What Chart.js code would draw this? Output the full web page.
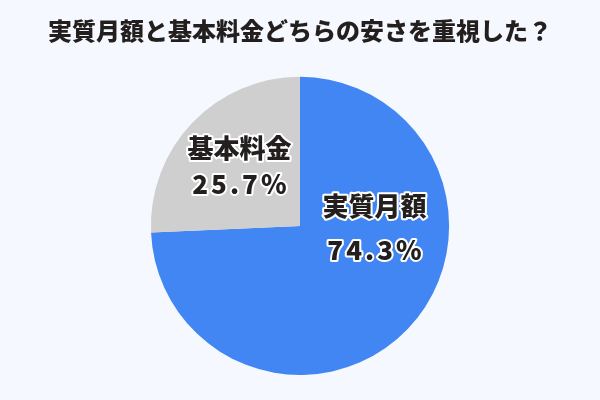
<!DOCTYPE html>
<html>
<head>
<meta charset="utf-8">
<script src="https://cdn.jsdelivr.net/npm/chart.js@4"></script>
<style>
  html, body { margin: 0; padding: 0; background: #f5f8fe; }
  #wrap { width: 600px; height: 400px; }
</style>
</head>
<body>
<div id="wrap"><canvas id="pieChart" width="600" height="400"></canvas></div>
<script>
const titleText = '実質月額と基本料金どちらの安さを重視した？';
const labels = ['実質月額', '基本料金'];
const values = [74.3, 25.7];
const colors = ['#4286f4', '#cfcfcf'];

// where each label sits: direction (deg, canvas coords) and fraction of radius
const labelSpots = [
  { angle: 2.0, dist: 0.50 },
  { angle: -135.5, dist: 0.57 }
];

const sliceLabels = {
  id: 'sliceLabels',
  afterDatasetsDraw(chart) {
    const ctx = chart.ctx;
    const meta = chart.getDatasetMeta(0);
    ctx.save();
    ctx.textAlign = 'center';
    ctx.textBaseline = 'middle';
    ctx.lineJoin = 'round';
    meta.data.forEach((arc, i) => {
      const spot = labelSpots[i];
      const a = spot.angle * Math.PI / 180;
      const r = arc.outerRadius * spot.dist;
      const x = arc.x + Math.cos(a) * r;
      const y = arc.y + Math.sin(a) * r;
      const lines = [labels[i], values[i].toFixed(1) + '%'];
      const gap = i === 0 ? 22 : 18;
      lines.forEach((txt, j) => {
        const ly = y + (j === 0 ? -gap : gap);
        ctx.font = '900 26px "Noto Sans CJK JP"';
        ctx.letterSpacing = j === 0 ? '0px' : '3px';
        const lx = j === 0 ? x : x + 1.5;
        ctx.strokeStyle = '#ffffff';
        ctx.lineWidth = 4;
        ctx.strokeText(txt, lx, ly);
        ctx.fillStyle = '#231f1f';
        ctx.fillText(txt, lx, ly);
      });
    });
    ctx.restore();
  }
};

new Chart(document.getElementById('pieChart').getContext('2d'), {
  type: 'pie',
  data: {
    labels: labels,
    datasets: [{
      data: values,
      backgroundColor: colors,
      borderWidth: 0
    }]
  },
  options: {
    responsive: false,
    animation: false,
    layout: { padding: { top: 16, bottom: 25 } },
    plugins: {
      legend: { display: false },
      tooltip: { enabled: false },
      title: {
        display: true,
        text: titleText,
        color: '#231f1f',
        font: { family: '"Noto Sans CJK JP"', size: 24, weight: '900' },
        padding: { top: 0, bottom: 32 }
      }
    }
  },
  plugins: [sliceLabels]
});
</script>
</body>
</html>
